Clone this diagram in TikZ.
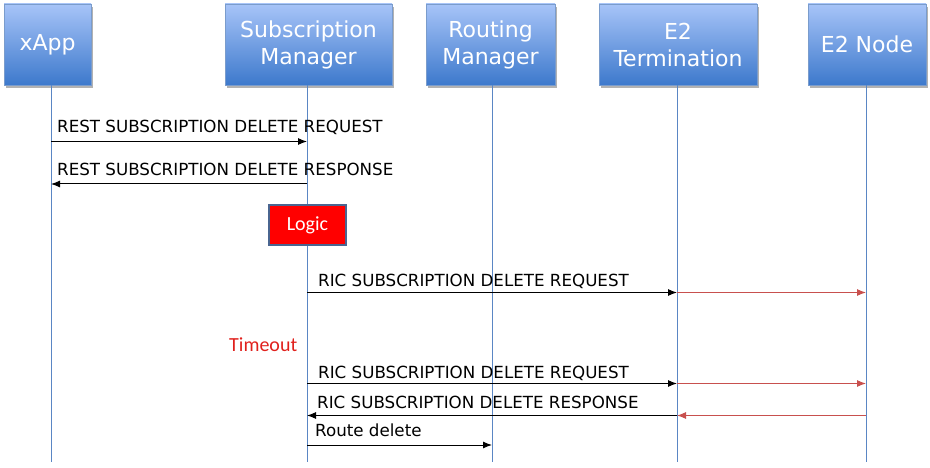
\documentclass[tikz,border=0pt]{standalone}
\usepackage{fontspec}
\setmainfont{DejaVu Sans}
\newfontfamily\carlito{Carlito}
\usepackage{tikz}
\usetikzlibrary{arrows.meta}
\definecolor{boxtop}{HTML}{A7C4F8}
\definecolor{boxbot}{HTML}{3D79CC}
\definecolor{boxline}{HTML}{7A9CCC}
\definecolor{lifeline}{HTML}{5A86C4}
\definecolor{msgred}{HTML}{C8504E}
\definecolor{logicline}{HTML}{4A6590}
\definecolor{timeoutred}{HTML}{E0201C}
\tikzset{
  actor/.style={draw=boxline, line width=0.8pt, top color=boxtop, bottom color=boxbot,
    text=white, align=center, inner sep=0pt, font=\fontsize{22}{27}\selectfont},
  msg/.style={line width=1pt, -{Latex[length=9pt,width=7pt]}},
  redmsg/.style={msg, draw=msgred, color=msgred},
  msglabel/.style={anchor=base west, inner sep=0pt, font=\fontsize{16.7}{20}\selectfont}
}
\begin{document}
\begin{tikzpicture}[x=1pt,y=-1pt]
\useasboundingbox (0,0) rectangle (930,468);
\coordinate (xtop) at (51,85);
\coordinate (stop) at (307,85);
\coordinate (rtop) at (492,85);
\coordinate (ttop) at (677,85);
\coordinate (ntop) at (866,85);
\coordinate (xbot) at (51,462);
\coordinate (sbot) at (307,462);
\coordinate (rbot) at (492,462);
\coordinate (tbot) at (677,462);
\coordinate (nbot) at (866,462);
% draws shadows
\foreach \l/\r in {4/91, 225/392, 426/555, 599/757, 808/926}
  \fill[black!30] (\l+2,7) rectangle (\r+2,88);
% draws actors
\node[actor, minimum width=87pt, minimum height=81pt] (xapp) at (47.5,44.5) {xApp};
\node[actor, minimum width=167pt, minimum height=81pt] (submgr) at (308.5,44.5) {Subscription\\Manager};
\node[actor, minimum width=129pt, minimum height=81pt] (rtmgr) at (490.5,44.5) {Routing\\Manager};
\node[actor, minimum width=158pt, minimum height=81pt] (e2term) at (678,44.5) {E2\\Termination};
\node[actor, minimum width=118pt, minimum height=81pt] (e2node) at (867,44.5) {E2 Node};
% draws lifelines
\draw[lifeline, line width=0.8pt] (xtop) -- (xbot);
\draw[lifeline, line width=0.8pt] (stop) -- (sbot);
\draw[lifeline, line width=0.8pt] (rtop) -- (rbot);
\draw[lifeline, line width=0.8pt] (ttop) -- (tbot);
\draw[lifeline, line width=0.8pt] (ntop) -- (nbot);
% message points
\coordinate (x1) at (51,141.5);  \coordinate (s1) at (307,141.5);
\coordinate (x2) at (51,184);    \coordinate (s2) at (307,184);
\coordinate (s3) at (307,292.5); \coordinate (t3) at (677,292.5); \coordinate (n3) at (866,292.5);
\coordinate (s4) at (307,383.5); \coordinate (t4) at (677,383.5); \coordinate (n4) at (866,383.5);
\coordinate (s5) at (307,415.5); \coordinate (t5) at (677,415.5); \coordinate (n5) at (866,415.5);
\coordinate (s6) at (307,445);   \coordinate (r6) at (492,445);
% draws messages
\draw[msg] (x1) -- (s1);
\draw[msg] (s2) -- (x2);
\draw[msg] (s3) -- (t3);
\draw[redmsg] (t3) -- (n3);
\draw[msg] (s4) -- (t4);
\draw[redmsg] (t4) -- (n4);
\draw[msg] (t5) -- (s5);
\draw[redmsg] (n5) -- (t5);
\draw[msg] (s6) -- (r6);
% labels messages
\node[msglabel] (l1) at (57,133) {REST SUBSCRIPTION DELETE REQUEST};
\node[msglabel] (l2) at (57,176) {REST SUBSCRIPTION DELETE RESPONSE};
\node[msglabel] (l3) at (318,287) {RIC SUBSCRIPTION DELETE REQUEST};
\node[msglabel] (l4) at (318,378) {RIC SUBSCRIPTION DELETE REQUEST};
\node[msglabel] (l5) at (317,408.5) {RIC SUBSCRIPTION DELETE RESPONSE};
\node[msglabel] (l6) at (315,436) {Route delete};
% logic and timeout
\node[draw=logicline, line width=2pt, fill=red, text=white, minimum width=77pt, minimum height=40pt,
  font=\carlito\fontsize{20}{24}\selectfont] (logic) at (307.5,225) {Logic};
\node[anchor=base west, inner sep=0pt, text=timeoutred, font=\carlito\fontsize{20}{24}\selectfont]
  (timeout) at (229,351) {Timeout};
\end{tikzpicture}
\end{document}
